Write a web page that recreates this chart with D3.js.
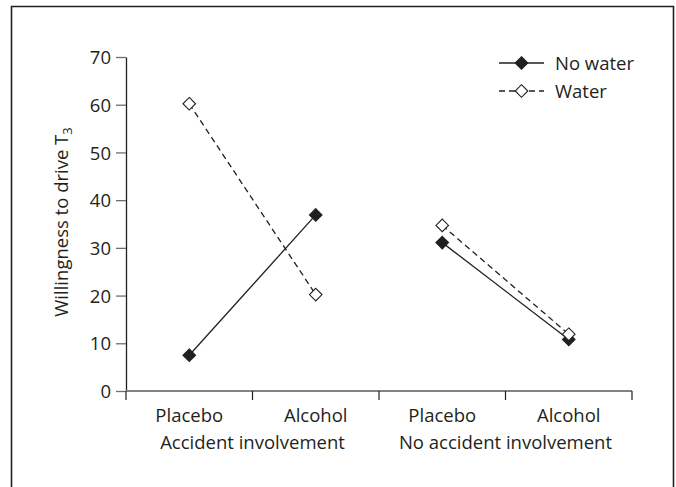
<!DOCTYPE html>
<html><head><meta charset="utf-8">
<script src="https://cdn.jsdelivr.net/npm/d3@7"></script>
<style>
html,body{margin:0;padding:0;background:#fff;}
svg text{font-family:"Open Sans",sans-serif;fill:#231f20;}
</style></head>
<body>
<svg id="c" width="676" height="487"></svg>
<script>
const groups = ["Accident involvement", "No accident involvement"];
const conditions = ["Placebo", "Alcohol"];
const categories = ["Accident|Placebo", "Accident|Alcohol", "NoAccident|Placebo", "NoAccident|Alcohol"];
const categoryLabels = ["Placebo", "Alcohol", "Placebo", "Alcohol"];
const noWater = [7.5, 36.9, 31.1, 10.8];
const water = [60.2, 20.2, 34.7, 11.9];
const yTicks = [0, 10, 20, 30, 40, 50, 60, 70];
const seriesNames = ["No water", "Water"];

const svg = d3.select("#c");
const m = {left:126, right:632, top:57, bottom:391};
const fs = 18.5;

// frame
svg.append("path").attr("d", `M11.5,495 V6.5 H673.5 V495`)
  .attr("fill","none").attr("stroke","#231f20").attr("stroke-width",1.6);

const x = d3.scaleBand().domain(categories).range([m.left, m.right]).padding(0);
const y = d3.scaleLinear().domain([0,70]).range([m.bottom, m.top]);

// y axis
const ya = svg.append("g").attr("transform",`translate(${m.left},0)`)
  .call(d3.axisLeft(y).tickValues(yTicks).tickSize(10).tickPadding(5).tickSizeOuter(0));
ya.select(".domain").attr("stroke","#231f20").attr("stroke-width",1.3);
ya.selectAll(".tick line").attr("stroke","#6d6e71").attr("stroke-width",1.3);
ya.selectAll(".tick text").style("font-size",fs+"px").attr("dy","0.36em");

// x axis
const xa = svg.append("g").attr("transform",`translate(0,${m.bottom})`);
xa.append("line").attr("x1",m.left).attr("x2",m.right).attr("y1",0).attr("y2",0)
  .attr("stroke","#808285").attr("stroke-width",1.8);
const bounds = [m.left, ...categories.map(c => x(c) + x.bandwidth())];
xa.selectAll("line.tk").data(bounds).enter().append("line").attr("class","tk")
  .attr("x1",d=>d).attr("x2",d=>d).attr("y1",0).attr("y2",9)
  .attr("stroke","#231f20").attr("stroke-width",1.2);
xa.selectAll("text.cl").data(categories).enter().append("text").attr("class","cl")
  .attr("x",d=>x(d)+x.bandwidth()/2).attr("y",31).attr("text-anchor","middle")
  .style("font-size",fs+"px").text((d,i)=>categoryLabels[i]);
xa.selectAll("text.gl").data(groups).enter().append("text").attr("class","gl")
  .attr("x",(d,i)=>x(categories[i*2]) + x.bandwidth())
  .attr("y",58).attr("text-anchor","middle")
  .style("font-size",fs+"px").text(d=>d);

// y label
const yl = svg.append("text").attr("transform",`translate(68,${(m.top+m.bottom)/2 - 2}) rotate(-90)`)
  .attr("text-anchor","middle").style("font-size",fs+"px");
yl.append("tspan").text("Willingness to drive T");
yl.append("tspan").text("3").attr("dy","0.3em").style("font-size",(fs*0.7)+"px");

const r = 6.3;
const diamond = `M0,${-r}L${r},0L0,${r}L${-r},0Z`;
const seriesData = [
  {name:seriesNames[0], values:noWater, dash:null, fill:"#231f20"},
  {name:seriesNames[1], values:water, dash:"6,4", fill:"#fff"}
];
const line = d3.line().x(d=>x(d.c)+x.bandwidth()/2).y(d=>y(d.v));

seriesData.forEach(s=>{
  groups.forEach((g,gi)=>{
    const pts = [0,1].map(k=>({c:categories[gi*2+k], v:s.values[gi*2+k]}));
    svg.append("path").attr("d",line(pts)).attr("fill","none")
      .attr("stroke","#231f20").attr("stroke-width",1.3)
      .attr("stroke-dasharray",s.dash);
  });
});
seriesData.forEach(s=>{
  svg.selectAll(null).data(categories).enter().append("path")
    .attr("d",diamond)
    .attr("transform",(c,i)=>`translate(${x(c)+x.bandwidth()/2},${y(s.values[i])})`)
    .attr("fill",s.fill).attr("stroke","#231f20").attr("stroke-width",1.1);
});

// legend
const lg = svg.append("g");
seriesData.forEach((s,i)=>{
  const ly = 63 + i*28;
  lg.append("line").attr("x1",499).attr("x2",544).attr("y1",ly).attr("y2",ly)
    .attr("stroke","#231f20").attr("stroke-width",1.3).attr("stroke-dasharray",s.dash);
  lg.append("path").attr("d",diamond).attr("transform",`translate(521.5,${ly})`)
    .attr("fill",s.fill).attr("stroke","#231f20").attr("stroke-width",1.1);
  lg.append("text").attr("x",555).attr("y",ly).attr("dy","0.36em")
    .style("font-size",fs+"px").text(s.name);
});
</script>
</body></html>
